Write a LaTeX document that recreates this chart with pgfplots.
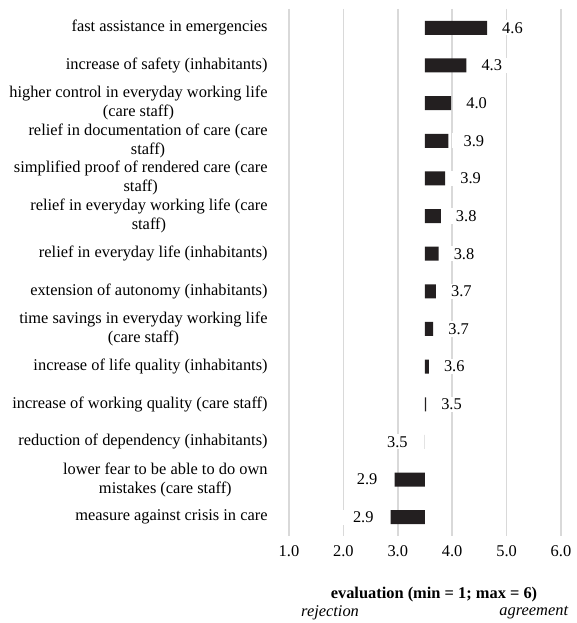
\documentclass[border=0pt]{standalone}
\usepackage{fontspec}
\setmainfont{Liberation Serif}
\usepackage{pgfplots}
\pgfplotsset{compat=1.18}
\definecolor{barblk}{RGB}{35,31,32}
\definecolor{gridgray}{RGB}{217,217,217}
\newcommand{\lab}{\fontsize{16.4}{19}\selectfont}
\begin{document}
\lab
\begin{tikzpicture}
% values are plotted relative to the midpoint 3.5 of the scale
\begin{axis}[
  scale only axis, width=272pt, height=527pt,
  xmin=-2.5, xmax=2.5, ymin=-0.5, ymax=13.5, y dir=reverse,
  xbar, bar width=14pt, bar shift=0pt,
  xtick={-2.5,-1.5,...,2.5},
  xticklabels={1.0,2.0,3.0,4.0,5.0,6.0},
  ytick={0,...,13},
  yticklabels={
    {fast assistance in emergencies},
    {increase of safety (inhabitants)},
    {higher control in everyday working life\\(care staff)},
    {relief in documentation of care (care\\staff)},
    {simplified proof of rendered care (care\\staff)},
    {relief in everyday working life (care\\staff)},
    {relief in everyday life (inhabitants)},
    {extension of autonomy (inhabitants)},
    {time savings in everyday working life\\(care staff)},
    {increase of life quality (inhabitants)},
    {increase of working quality (care staff)},
    {reduction of dependency (inhabitants)},
    {lower fear to be able to do own\\mistakes (care staff)},
    {measure against crisis in care}},
  xmajorgrids, major grid style={gridgray, line width=1.5pt},
  axis line style={draw=none}, tick style={draw=none},
  yticklabel style={align=center, font=\lab, xshift=-11.5pt},
  xticklabel style={font=\lab, yshift=-4pt},
  nodes near coords, point meta=explicit symbolic,
  every node near coord/.append style={font=\lab, fill=white, inner xsep=12pt, inner ysep=2pt, text=black},
  clip=false,
]
\addplot[fill=barblk, draw=none, every node near coord/.append style={anchor=west, xshift=3pt}] coordinates {
  (1.14,0) [4.6]
  (0.76,1) [4.3]
  (0.48,2) [4.0]
  (0.43,3) [3.9]
  (0.37,4) [3.9]
  (0.29,5) [3.8]
  (0.25,6) [3.8]
  (0.20,7) [3.7]
  (0.15,8) [3.7]
  (0.07,9) [3.6]
  (0.02,10) [3.5]
};
\addplot[fill=barblk, draw=none, every node near coord/.append style={anchor=east, xshift=-5pt}] coordinates {
  (-0.003,11) [3.5]
  (-0.56,12) [2.9]
  (-0.63,13) [2.9]
};
\node[font=\lab\bfseries] at (axis description cs:0.533,0) [yshift=-59pt] {evaluation (min = 1; max = 6)};
\node[font=\lab\itshape] at (axis description cs:0.151,0) [yshift=-77pt] {rejection};
\node[font=\lab\itshape] at (axis description cs:0.90,0) [yshift=-77pt] {agreement};
\end{axis}
\pgfresetboundingbox
\path (-289pt,-87pt) rectangle (288pt,536pt);
\end{tikzpicture}
\end{document}
